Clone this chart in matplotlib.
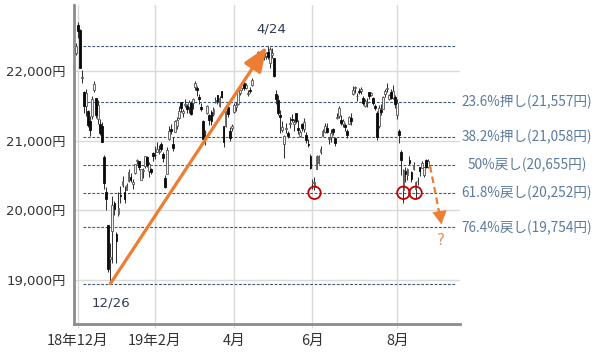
import matplotlib
matplotlib.use('Agg')
import matplotlib.pyplot as plt
import matplotlib.transforms as mtrans
import numpy as np

plt.rcParams['font.family'] = ['Noto Sans CJK JP', 'DejaVu Sans']
LATIN_FIRST = ['DejaVu Sans', 'Noto Sans CJK JP']

# ---------------- data ----------------
dates = (
    ['2018-11-30'] +
    ['2018-12-%02d' % d for d in [3, 4, 5, 6, 7, 10, 11, 12, 13, 14, 17, 18, 19, 20, 21, 25, 26, 27, 28]] +
    ['2019-01-%02d' % d for d in [4, 7, 8, 9, 10, 11, 15, 16, 17, 18, 21, 22, 23, 24, 25, 28, 29, 30, 31]] +
    ['2019-02-%02d' % d for d in [1, 4, 5, 6, 7, 8, 12, 13, 14, 15, 18, 19, 20, 21, 22, 25, 26, 27, 28]] +
    ['2019-03-%02d' % d for d in [1, 4, 5, 6, 7, 8, 11, 12, 13, 14, 15, 18, 19, 20, 22, 25, 26, 27, 28, 29]] +
    ['2019-04-%02d' % d for d in [1, 2, 3, 4, 5, 8, 9, 10, 11, 12, 15, 16, 17, 18, 19, 22, 23, 24, 25, 26]] +
    ['2019-05-%02d' % d for d in [7, 8, 9, 10, 13, 14, 15, 16, 17, 20, 21, 22, 23, 24, 27, 28, 29, 30, 31]] +
    ['2019-06-%02d' % d for d in [3, 4, 5, 6, 7, 10, 11, 12, 13, 14, 17, 18, 19, 20, 21, 24, 25, 26, 27, 28]] +
    ['2019-07-%02d' % d for d in [1, 2, 3, 4, 5, 8, 9, 10, 11, 12, 16, 17, 18, 19, 22, 23, 24, 25, 26, 29, 30, 31]] +
    ['2019-08-%02d' % d for d in [1, 2, 5, 6, 7, 8, 9, 13, 14, 15, 16, 19, 20, 21, 22, 23]]
)

opens = [22260,
    22665, 22591, 21893, 21698, 21501, 21431, 21283, 21358, 21730, 21610, 21314, 21239, 21204, 20762, 20262, 19785, 19302, 19706, 20111,
    19655, 19944, 20224, 20366, 20270, 20296, 20421, 20483, 20379, 20542, 20714, 20707, 20439, 20564, 20637, 20766, 20562, 20596, 20818,
    20797, 20831, 20841, 20952, 20812, 20469, 20528, 21030, 21161, 20957, 21126, 21215, 21322, 21548, 21403, 21517, 21497, 21481, 21536,
    21536, 21763, 21759, 21628, 21488, 21284, 21118, 21389, 21361, 21414, 21381, 21555, 21656, 21500, 21708, 21206, 21209, 21486, 21136, 21177,
    21416, 21477, 21530, 21689, 21749, 21830, 21749, 21670, 21719, 21801, 22068, 22174, 22248, 22251, 22166, 22204, 22215, 22274, 22109, 22233,
    22185, 21675, 21587, 21368, 21150, 20953, 21171, 21111, 21236, 21313, 21232, 21391, 21181, 21069, 21245, 21160, 21080, 20947, 20780,
    20390, 20330, 20600, 20681, 20834, 21071, 21119, 21178, 21018, 21049, 21163, 21038, 21329, 21351, 21297, 21245, 21230, 21145, 21244, 21329,
    21671, 21752, 21636, 21706, 21715, 21618, 21496, 21533, 21704, 21660, 21610, 21495, 21403, 21211, 21432, 21452, 21670, 21736, 21600, 21700, 21610, 21632,
    21361, 21134, 20841, 20285, 20567, 20507, 20729, 20545, 20598, 20313, 20417, 20615, 20614, 20510, 20726, 20617]

highs = [22400,
    22698, 22602, 22018, 21711, 21742, 21442, 21349, 21633, 21861, 21612, 21576, 21306, 21270, 20799, 20336, 19785, 19530, 20211, 20139,
    19692, 20266, 20347, 20494, 20345, 20389, 20592, 20531, 20453, 20666, 20731, 20714, 20600, 20614, 20773, 20774, 20696, 20609, 20836,
    20929, 20981, 20941, 20981, 20843, 20510, 20906, 21213, 21235, 21058, 21302, 21337, 21494, 21553, 21454, 21597, 21523, 21578, 21563,
    21616, 21860, 21783, 21668, 21534, 21295, 21146, 21518, 21384, 21445, 21481, 21621, 21656, 21643, 21713, 21207, 21428, 21502, 21191, 21243,
    21540, 21560, 21738, 21745, 21819, 21900, 21827, 21732, 21776, 21903, 22185, 22221, 22289, 22258, 22234, 22253, 22272, 22362, 22339, 22327,
    22185, 21731, 21659, 21439, 21278, 21080, 21259, 21145, 21337, 21380, 21304, 21403, 21300, 21158, 21247, 21322, 21118, 21025, 20814,
    20451, 20473, 20800, 20792, 20917, 21164, 21259, 21259, 21053, 21160, 21182, 21045, 21395, 21497, 21367, 21316, 21259, 21161, 21351, 21400,
    21784, 21784, 21686, 21748, 21767, 21646, 21604, 21616, 21704, 21704, 21628, 21530, 21423, 21512, 21526, 21638, 21744, 21823, 21674, 21740, 21792, 21661,
    21597, 21161, 20868, 20590, 20620, 20603, 20785, 20565, 20698, 20428, 20485, 20615, 20704, 20623, 20733, 20732]

lows = [22230,
    22470, 22036, 21827, 21402, 21353, 21202, 21062, 21314, 21700, 21325, 21238, 21074, 20981, 20310, 20006, 19117, 18948, 19241, 19940,
    19241, 19920, 20106, 20331, 20101, 20294, 20402, 20407, 20302, 20521, 20660, 20573, 20437, 20465, 20606, 20618, 20477, 20517, 20714,
    20741, 20831, 20807, 20853, 20695, 20315, 20526, 21008, 21094, 20853, 21126, 21170, 21305, 21412, 21339, 21475, 21393, 21395, 21364,
    21457, 21722, 21644, 21532, 21418, 21009, 20938, 21382, 21219, 21223, 21346, 21540, 21528, 21480, 21605, 20911, 21199, 21340, 20995, 21138,
    21390, 21418, 21516, 21659, 21723, 21722, 21743, 21646, 21683, 21778, 22051, 22136, 22196, 22054, 22122, 22159, 22176, 22174, 22035, 22181,
    21912, 21529, 21364, 21107, 21124, 20751, 21115, 21032, 21183, 21262, 21137, 21256, 21101, 21050, 21136, 21130, 20963, 20910, 20598,
    20305, 20289, 20593, 20671, 20811, 21071, 21110, 21106, 20953, 20979, 21082, 20920, 21310, 21327, 21227, 21193, 21145, 21035, 21235, 21217,
    21649, 21689, 21566, 21662, 21668, 21512, 21476, 21485, 21600, 21637, 21505, 21440, 21003, 21184, 21365, 21451, 21620, 21701, 21577, 21600, 21595, 21462,
    21313, 20960, 20514, 20110, 20406, 20432, 20645, 20406, 20582, 20184, 20366, 20493, 20610, 20476, 20612, 20605]

closes = [22351,
    22574, 22036, 21919, 21501, 21678, 21219, 21148, 21602, 21816, 21374, 21506, 21115, 20987, 20392, 20166, 19155, 19327, 20077, 20014,
    19561, 20038, 20204, 20427, 20163, 20359, 20555, 20442, 20402, 20666, 20719, 20622, 20593, 20574, 20773, 20649, 20664, 20556, 20773,
    20788, 20883, 20844, 20874, 20751, 20333, 20864, 21144, 21139, 20900, 21281, 21302, 21431, 21464, 21425, 21528, 21449, 21556, 21385,
    21602, 21822, 21726, 21596, 21456, 21025, 21125, 21503, 21290, 21287, 21451, 21584, 21566, 21608, 21627, 20977, 21428, 21378, 21033, 21205,
    21509, 21505, 21713, 21724, 21807, 21761, 21802, 21687, 21711, 21870, 22169, 22221, 22277, 22090, 22200, 22217, 22259, 22200, 22307, 22258,
    21923, 21602, 21402, 21344, 21191, 21067, 21188, 21062, 21250, 21301, 21272, 21283, 21151, 21117, 21182, 21260, 21003, 20942, 20601,
    20410, 20408, 20776, 20774, 20884, 21134, 21204, 21129, 21032, 21116, 21124, 20972, 21333, 21462, 21258, 21285, 21193, 21086, 21338, 21275,
    21729, 21754, 21638, 21702, 21746, 21534, 21565, 21533, 21643, 21685, 21535, 21469, 21046, 21466, 21416, 21620, 21709, 21756, 21658, 21616, 21709, 21521,
    21540, 21087, 20720, 20585, 20516, 20593, 20684, 20455, 20655, 20405, 20418, 20563, 20677, 20618, 20628, 20710]

levels = [22362, 21557, 21058, 20655, 20252, 19754, 18948]
level_texts = [None, '23.6%押し(21,557円)', '38.2%押し(21,058円)', '50%戻し(20,655円)',
               '61.8%戻し(20,252円)', '76.4%戻し(19,754円)', None]

yticks = [19000, 20000, 21000, 22000]
ytick_labels = ['19,000円', '20,000円', '21,000円', '22,000円']
xtick_months = ['2018-12', '2019-02', '2019-04', '2019-06', '2019-08']
xtick_labels = ['18年12月', '19年2月', '4月', '6月', '8月']
circle_dates = ['2019-06-04', '2019-08-06', '2019-08-15']
low_label = '12/26'
high_label = '4/24'
target_level = 19754

# ---------------- figure ----------------
fig = plt.figure(figsize=(6.0, 3.53), dpi=100)
ax = fig.add_axes([74 / 600, 29 / 353, 386 / 600, 319 / 353])

n = len(dates)
x = np.arange(n)
o = np.array(opens, float); h = np.array(highs, float)
l = np.array(lows, float); c = np.array(closes, float)

ax.set_xlim(-1, 190)
ax.set_ylim(18370, 22945)

# grid
grid_col = '#d9d9d9'
for yv in yticks:
    ax.axhline(yv, color=grid_col, lw=1.0, zorder=0)
tick_pos = [next(i for i, d in enumerate(dates) if d.startswith(m)) for m in xtick_months]
for xp in tick_pos:
    ax.axvline(xp, color=grid_col, lw=1.0, zorder=0)

# dashed levels
for lv in levels:
    ax.plot([3.5, 188], [lv, lv], color='#3d5478', lw=0.8, ls=(0, (2.5, 1.5)), zorder=1)

# candles
up = c >= o
ax.vlines(x, l, h, color='#333333', lw=0.75, zorder=2)
body_bottom = np.minimum(o, c)
body_h = np.maximum(np.abs(c - o), 10)
ax.bar(x[up], body_h[up], bottom=body_bottom[up], width=0.9,
       facecolor='#f0f0f0', edgecolor='#555555', lw=0.6, zorder=3)
ax.bar(x[~up], body_h[~up], bottom=body_bottom[~up], width=0.9,
       facecolor='#0a0a0a', edgecolor='#0a0a0a', lw=0.6, zorder=3)

# orange trend arrow low -> high
lo_i = int(np.argmin(l))
hi_i = lo_i + int(np.argmax(h[lo_i:]))
orange = '#ed7d31'
ax.annotate('', xy=(hi_i - 0.7, h[hi_i] - 15), xytext=(lo_i, l[lo_i]),
            arrowprops=dict(arrowstyle='-|>,head_length=0.75,head_width=0.3',
                            mutation_scale=20, lw=2.3, color=orange,
                            shrinkA=0, shrinkB=0), zorder=5)
ax.text(lo_i + 0.4, l[lo_i] - 275, low_label, ha='center', va='center',
        fontsize=9.6, color='#2f3a56', family=LATIN_FIRST)
ax.text(hi_i + 1.5, h[hi_i] + 240, high_label, ha='center', va='center',
        fontsize=9.6, color='#2f3a56', family=LATIN_FIRST)

# dashed projection arrow
x0, y0 = n + 0.2, l[-1] + 30
x1, y1 = n + 5.8, target_level + 45
ax.plot([x0, x1 - 0.7], [y0, y1 + 110], color=orange, lw=1.6, ls=(0, (3, 1.8)), zorder=5)
ax.annotate('', xy=(x1, y1), xytext=(x1 - 0.6, y1 + 120),
            arrowprops=dict(arrowstyle='-|>,head_length=0.55,head_width=0.3',
                            mutation_scale=16, lw=0.5, color=orange,
                            shrinkA=0, shrinkB=0), zorder=5)
ax.text(x1, target_level - 185, '?', ha='center', va='center', fontsize=11,
        color='#e8924f', family=LATIN_FIRST)

# red circles
cidx = [dates.index(d) for d in circle_dates]
ax.scatter(cidx, [levels[4]] * len(cidx), s=80, facecolors='none',
           edgecolors='#c00000', linewidths=1.3, zorder=6)

# level labels on the right
trans = mtrans.blended_transform_factory(fig.transFigure, ax.transData)
for lv, t in zip(levels, level_texts):
    if t:
        ax.text(527 / 600, lv, t, transform=trans, ha='center', va='center',
                fontsize=9.8, color='#5b7a9d', clip_on=False)

# axes styling
for s in ['top', 'right']:
    ax.spines[s].set_visible(False)
for s in ['left', 'bottom']:
    ax.spines[s].set_color('#8c8c8c')
    ax.spines[s].set_linewidth(2.0)
ax.set_yticks(yticks)
ax.set_yticklabels(ytick_labels, fontsize=9.5, color='#333333', family=LATIN_FIRST)
ax.set_xticks(tick_pos)
ax.set_xticklabels(xtick_labels, fontsize=10.5, color='#333333')
ax.tick_params(axis='y', length=0, pad=6)
ax.tick_params(axis='x', length=3, color=grid_col, pad=4)

fig.savefig('out.png', dpi=100)
